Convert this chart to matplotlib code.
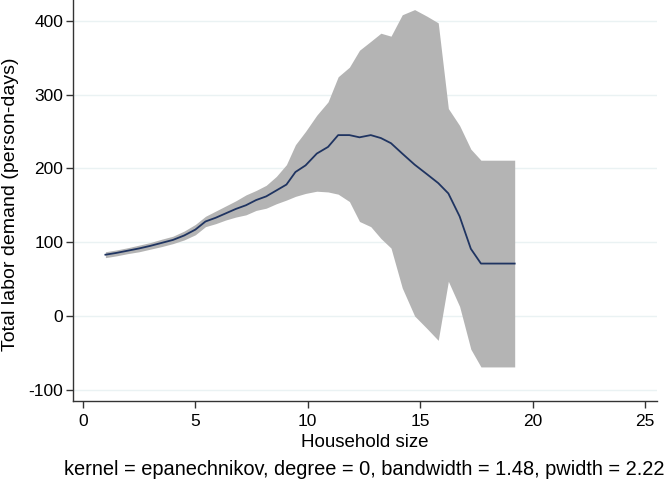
import matplotlib
matplotlib.use("Agg")
import matplotlib.pyplot as plt

plt.rcParams['font.family'] = ['Liberation Sans', 'DejaVu Sans']
plt.rcParams['axes.unicode_minus'] = False

household_size = [1.0, 1.5, 2.0, 2.5, 3.0, 3.5, 4.0, 4.5, 5.0, 5.45, 5.9, 6.35, 6.8, 7.25,
                  7.7, 8.15, 8.6, 9.05, 9.45, 9.9, 10.4, 10.9, 11.35, 11.85, 12.3, 12.8,
                  13.25, 13.7, 14.2, 14.75, 15.3, 15.8, 16.25, 16.75, 17.25, 17.7, 19.2]
smooth = [83, 85.5, 88.5, 91.5, 95, 99, 103, 109, 117, 128, 133, 139, 145, 150,
          157, 162, 170, 178, 195, 204, 220, 229, 245, 245, 242, 245,
          241, 234, 220, 205, 192, 180, 166, 135, 91, 71, 71]
ci_upper = [87, 89.5, 92.5, 96, 99.5, 104, 108, 115, 124, 135, 142, 149, 156, 164,
            170, 177, 189, 205, 232, 250, 272, 290, 324, 337, 360, 372,
            383, 379, 408, 415, 406, 397, 281, 258, 226, 211, 211]
ci_lower = [79, 81.5, 84.5, 87, 90.5, 94, 98, 103, 110, 121, 125, 130, 134, 137,
            143, 146, 152, 157, 162, 166, 169, 168, 165, 155, 128, 121,
            105, 92, 38, 0, -17, -33, 47, 13, -45, -69, -69]

x_ticks = [0, 5, 10, 15, 20, 25]
y_ticks = [-100, 0, 100, 200, 300, 400]

fig = plt.figure(figsize=(6.7, 4.83), dpi=100)
ax = fig.add_axes([0.109, 0.170, 0.872, 0.830])

ax.fill_between(household_size, ci_lower, ci_upper, color='#b4b4b4', linewidth=0, zorder=2)
ax.plot(household_size, smooth, color='#1f3461', linewidth=1.3, zorder=3)

ax.set_xlim(-0.44, 25.54)
ax.set_ylim(-115, 428)
ax.set_xticks(x_ticks)
ax.set_yticks(y_ticks)
ax.yaxis.grid(True, color='#eaf2f3', linewidth=1.0, zorder=0)
ax.set_axisbelow(True)

for s in ['top', 'right']:
    ax.spines[s].set_visible(False)
for s in ['left', 'bottom']:
    ax.spines[s].set_color('#333333')
    ax.spines[s].set_linewidth(1.0)

ax.tick_params(axis='both', direction='out', length=5, width=1, color='#333333',
               labelsize=12.5)
ax.tick_params(axis='x', pad=4.5)
ax.tick_params(axis='y', pad=2)

ax.set_xlabel('Household size', fontsize=13.5, va='center')
ax.xaxis.set_label_coords(0.50, -0.105)
ax.set_ylabel('Total labor demand (person-days)', fontsize=14, va='center')
ax.yaxis.set_label_coords(-0.1075, 0.49)

fig.text(0.543, 0.027, 'kernel = epanechnikov, degree = 0, bandwidth = 1.48, pwidth = 2.22',
         ha='center', va='center', fontsize=14.4)

fig.savefig('out.png', dpi=100)
